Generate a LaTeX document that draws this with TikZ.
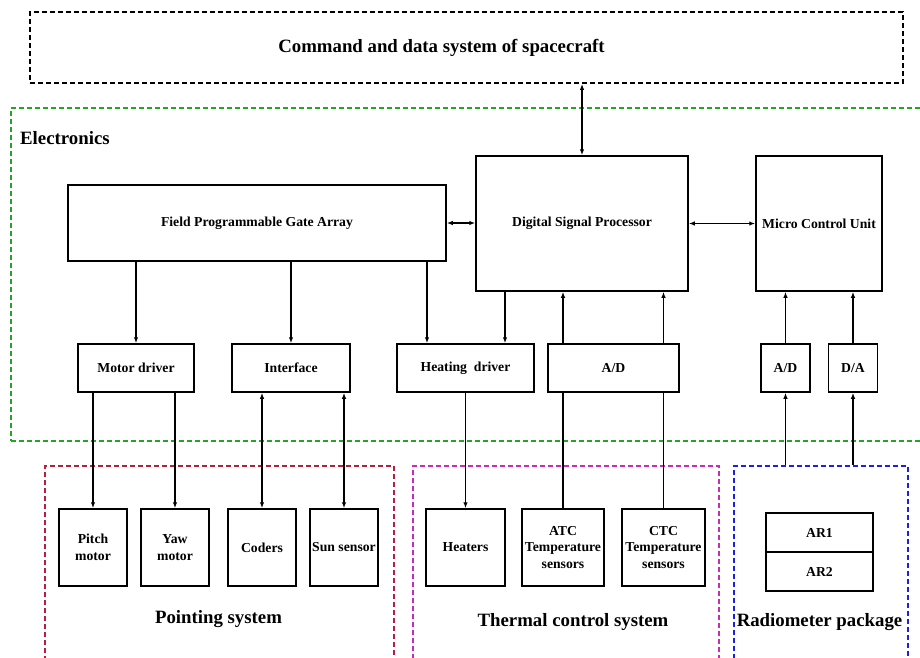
\documentclass[tikz,border=0pt]{standalone}
\usepackage{fontspec}
\setmainfont{Liberation Serif}
\usepackage{tikz}
\usetikzlibrary{arrows.meta,positioning}
\definecolor{elecgreen}{RGB}{30,170,30}
\definecolor{pointred}{RGB}{185,30,65}
\definecolor{thermpink}{RGB}{205,40,185}
\definecolor{radioblue}{RGB}{30,30,230}

\begin{document}
\begin{tikzpicture}[x=1pt,y=-1pt,
box/.style={draw,line width=1.5pt,align=center,inner sep=1pt,font=\bfseries\fontsize{13.7}{16.5}\selectfont},
group/.style={draw,dash pattern=on 5pt off 3pt,line width=1.8pt,inner sep=0pt},
title/.style={font=\bfseries\fontsize{18.8}{22}\selectfont},
arrow/.style={-{Latex[length=6pt,width=4.5pt]},line width=1.5pt},
twoway/.style={{Latex[length=6pt,width=4.5pt]}-{Latex[length=6pt,width=4.5pt]},line width=1.5pt}]
\useasboundingbox (0,0) rectangle (920,657);
% groups
\node[group,minimum width=873,minimum height=71,label={[title,xshift=-25pt]center:Command and data system of spacecraft}] (cds) at (466.5,47.5) {};
\node[group,draw=elecgreen,minimum width=920,minimum height=333,anchor=north west] (elec) at (10,107) {};
\node[title,anchor=west,inner sep=0pt] (electxt) at (20,138) {Electronics};
\node[group,draw=pointred,minimum width=349,minimum height=200,anchor=north west] (point) at (44,465) {};
\node[group,draw=thermpink,minimum width=306,minimum height=200,anchor=north west] (therm) at (412,465) {};
\node[group,draw=radioblue,minimum width=174,minimum height=200,anchor=north west] (radio) at (733,465) {};
\node[title] (pointtxt) at (218.5,619) {Pointing system};
\node[title] (thermtxt) at (573,622) {Thermal control system};
\node[title] (radiotxt) at (819.5,622) {Radiometer package};
% electronics
\node[box,minimum width=378,minimum height=76] (fpga) at (257,223) {Field Programmable Gate Array};
\node[box,minimum width=212,minimum height=135] (dsp) at (582,223.5) {Digital Signal Processor};
\node[box,minimum width=126,minimum height=135] (mcu) at (819,223.5) {Micro Control Unit};
\node[box,minimum width=116,minimum height=48] (mdrv) at (136,368) {Motor driver};
\node[box,minimum width=118,minimum height=48] (intf) at (291,368) {Interface};
\node[box,minimum width=137,minimum height=48] (hdrv) at (465.5,368) {Heating\ \ driver};
\node[box,minimum width=131,minimum height=48] (adt) at (613.5,368) {A/D};
\node[box,minimum width=49,minimum height=48] (adr) at (785.5,368) {A/D};
\node[box,minimum width=49,minimum height=48,right=17pt of adr] (da) {D/A};
% subsystems
\node[box,minimum width=68,minimum height=77] (pitch) at (93,547.5) {Pitch\\motor};
\node[box,minimum width=68,minimum height=77,right=12.5pt of pitch] (yaw) {Yaw\\motor};
\node[box,minimum width=68,minimum height=77] (coders) at (262,547.5) {Coders};
\node[box,minimum width=68,minimum height=77,right=12.5pt of coders] (sun) {Sun sensor};
\node[box,minimum width=79,minimum height=77] (heat) at (465.5,547.5) {Heaters};
\node[box,minimum width=82,minimum height=77] (atc) at (563,547.5) {ATC\\Temperature\\sensors};
\node[box,minimum width=83,minimum height=77] (ctc) at (663.5,547.5) {CTC\\Temperature\\sensors};
\node[box,minimum width=107,minimum height=39] (ar1) at (819.5,532.5) {AR1};
\node[box,minimum width=107,minimum height=39,below=-1.5pt of ar1] (ar2) {AR2};
% links
\draw[twoway] (cds.south -| dsp.north) -- (dsp.north);
\draw[twoway] (fpga.east) -- (fpga.east -| dsp.west); \draw[twoway] (dsp.east) -- (dsp.east -| mcu.west);
\draw[arrow] (fpga.south -| mdrv.north) -- (mdrv.north); \draw[arrow] (fpga.south -| intf.north) -- (intf.north);
\draw[arrow] ([xshift=-38.5]hdrv.north |- fpga.south) -- ([xshift=-38.5]hdrv.north);
\draw[arrow] ([xshift=39.5]hdrv.north |- dsp.south) -- ([xshift=39.5]hdrv.north);
\draw[arrow] (adt.north -| atc.north) -- (dsp.south -| atc.north); \draw[arrow] (adt.north -| ctc.north) -- (dsp.south -| ctc.north);
\draw[arrow] (adr.north) -- (adr.north |- mcu.south); \draw[arrow] (da.north) -- (da.north |- mcu.south);
\draw[arrow] (mdrv.south -| pitch.north) -- (pitch.north); \draw[arrow] (mdrv.south -| yaw.north) -- (yaw.north);
\draw[twoway] (intf.south -| coders.north) -- (coders.north); \draw[twoway] (intf.south -| sun.north) -- (sun.north);
\draw[arrow] (hdrv.south) -- (heat.north);
\draw[line width=1.5pt] (atc.north) -- (atc.north |- adt.south); \draw[line width=1.5pt] (ctc.north) -- (ctc.north |- adt.south);
\draw[arrow] (radio.north -| adr.south) -- (adr.south); \draw[arrow] (radio.north -| da.south) -- (da.south);
\end{tikzpicture}
\end{document}
